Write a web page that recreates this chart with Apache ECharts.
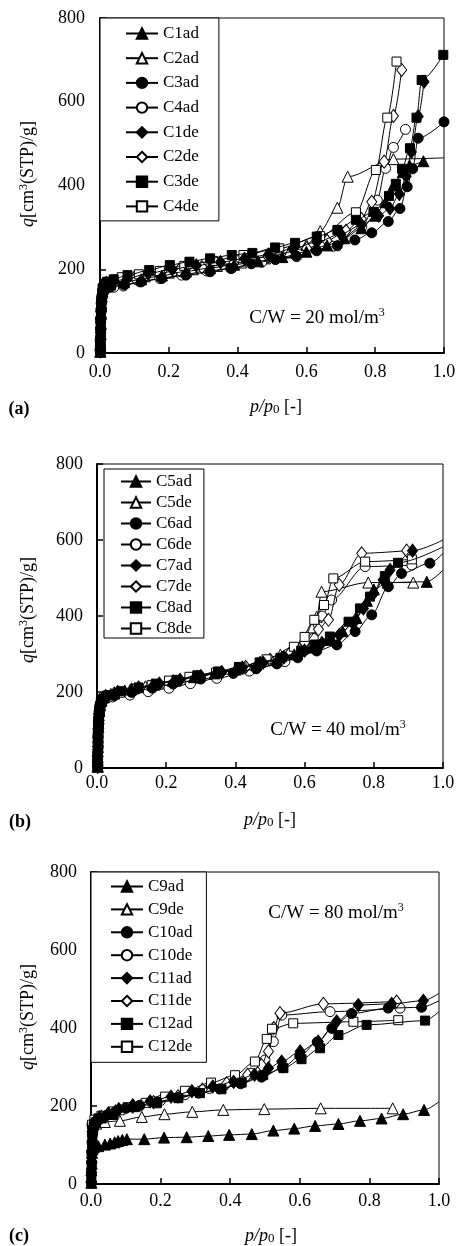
<!DOCTYPE html>
<html><head><meta charset="utf-8">
<script src="https://cdn.jsdelivr.net/npm/echarts@6/dist/echarts.min.js"></script>
<style>html,body{margin:0;padding:0;background:#fff}#c{width:459px;height:1246px}</style>
</head><body><div id="c"></div><script>
// ---------------- DATA ----------------
const xTicks = [0, 0.2, 0.4, 0.6, 0.8, 1.0];
const yTicks = [0, 200, 400, 600, 800];

const namesA = ['C1ad','C2ad','C3ad','C4ad','C1de','C2de','C3de','C4de'];
const namesB = ['C5ad','C5de','C6ad','C6de','C7ad','C7de','C8ad','C8de'];
const namesC = ['C9ad','C9de','C10ad','C10de','C11ad','C11de','C12ad','C12de'];

const cwA = '20', cwB = '40', cwC = '80';

// Panel (a)  [p/p0, q]
const a_C1ad = [[0.001,3],[0.001,20],[0.001,42],[0.002,68],[0.002,92],[0.003,112],[0.004,130],[0.006,144],[0.009,154],[0.014,160],[0.03,164],[0.07,169],[0.12,176],[0.18,185],[0.25,195],[0.32,203],[0.39,211],[0.46,219],[0.53,229],[0.6,242],[0.66,257],[0.71,274],[0.76,298],[0.8,328],[0.83,360],[0.853,400],[0.88,432],[0.9,448],[0.94,458]];
const a_C2ad = [[0.001,4],[0.001,22],[0.002,45],[0.002,70],[0.003,95],[0.004,118],[0.005,135],[0.007,148],[0.01,157],[0.016,163],[0.035,167],[0.07,173],[0.13,183],[0.2,192],[0.27,200],[0.34,208],[0.41,216],[0.48,226],[0.55,240],[0.6,258],[0.64,291],[0.69,347],[0.72,421],[0.853,463]];
const a_C3ad = [[0.001,2],[0.001,15],[0.001,35],[0.002,58],[0.002,82],[0.003,104],[0.004,122],[0.006,136],[0.009,146],[0.014,152],[0.03,157],[0.07,163],[0.12,170],[0.18,178],[0.25,186],[0.32,194],[0.38,202],[0.44,213],[0.51,223],[0.57,232],[0.63,244],[0.69,256],[0.741,270],[0.79,287],[0.838,314],[0.872,345],[0.893,397],[0.909,440],[0.925,513],[1.0,552]];
const a_C4ad = [[0.001,3],[0.001,17],[0.002,38],[0.002,60],[0.003,84],[0.004,106],[0.005,124],[0.007,138],[0.01,148],[0.02,154],[0.04,157],[0.068,160],[0.116,170],[0.174,178],[0.237,186],[0.31,196],[0.383,202],[0.47,217],[0.572,230],[0.678,255],[0.761,302],[0.806,365],[0.83,441],[0.853,491],[0.888,534]];
const a_C1de = [[0.001,5],[0.001,25],[0.002,50],[0.002,75],[0.003,100],[0.004,122],[0.006,140],[0.008,153],[0.012,162],[0.018,167],[0.04,171],[0.08,178],[0.14,190],[0.21,200],[0.28,209],[0.35,217],[0.42,225],[0.49,235],[0.56,249],[0.63,265],[0.7,284],[0.76,306],[0.81,328],[0.843,345],[0.87,380],[0.89,422],[0.905,480],[0.925,565],[0.942,648]];
const a_C2de = [[0.001,4],[0.001,24],[0.002,48],[0.002,72],[0.003,96],[0.004,120],[0.006,138],[0.008,152],[0.012,161],[0.02,166],[0.045,171],[0.1,180],[0.17,190],[0.23,198],[0.296,205],[0.388,214],[0.489,230],[0.601,250],[0.66,268],[0.715,292],[0.76,320],[0.79,361],[0.826,457],[0.853,566],[0.877,676]];
const a_C3de = [[0.001,6],[0.001,28],[0.002,52],[0.002,78],[0.003,102],[0.004,124],[0.006,142],[0.008,155],[0.012,165],[0.02,170],[0.04,176],[0.08,186],[0.143,198],[0.203,210],[0.26,218],[0.32,226],[0.383,234],[0.443,239],[0.509,252],[0.567,263],[0.63,278],[0.69,294],[0.744,318],[0.795,337],[0.84,375],[0.86,404],[0.878,440],[0.901,489],[0.92,562],[0.935,652],[0.998,712]];
const a_C4de = [[0.001,5],[0.001,26],[0.002,50],[0.002,76],[0.003,100],[0.004,122],[0.006,140],[0.008,153],[0.012,163],[0.025,170],[0.063,181],[0.113,188],[0.174,196],[0.245,208],[0.329,220],[0.417,234],[0.521,250],[0.64,279],[0.744,336],[0.802,437],[0.835,562],[0.862,696]];
// line ends without a marker: [series name, p/p0, q]
const tailsA = [['C2ad',1.0,466]];

// Panel (b)
const b_C5ad = [[0.002,3],[0.002,22],[0.002,45],[0.003,70],[0.003,95],[0.004,118],[0.005,138],[0.006,155],[0.008,168],[0.011,178],[0.02,186],[0.05,196],[0.1,207],[0.16,219],[0.22,229],[0.28,239],[0.34,249],[0.4,259],[0.46,271],[0.52,284],[0.57,299],[0.62,317],[0.67,337],[0.71,360],[0.75,395],[0.78,440],[0.8,470],[0.84,488],[0.953,490]];
const b_C5de = [[0.002,5],[0.002,28],[0.003,55],[0.003,82],[0.004,108],[0.005,130],[0.007,150],[0.009,165],[0.013,177],[0.02,187],[0.04,195],[0.08,204],[0.14,215],[0.2,225],[0.27,237],[0.34,248],[0.41,262],[0.471,280],[0.53,298],[0.57,316],[0.601,341],[0.62,370],[0.635,398],[0.649,464],[0.784,488],[0.914,488]];
const b_C6ad = [[0.002,2],[0.002,18],[0.002,40],[0.003,64],[0.003,88],[0.004,110],[0.005,130],[0.006,148],[0.008,162],[0.012,172],[0.02,180],[0.05,190],[0.1,199],[0.16,210],[0.22,221],[0.3,234],[0.394,249],[0.46,261],[0.52,274],[0.58,290],[0.635,308],[0.693,324],[0.746,359],[0.794,403],[0.842,477],[0.88,512],[0.962,539]];
const b_C6de = [[0.002,4],[0.002,26],[0.003,52],[0.003,78],[0.004,104],[0.005,126],[0.007,146],[0.009,162],[0.013,174],[0.02,182],[0.045,187],[0.095,192],[0.148,201],[0.208,210],[0.27,222],[0.346,236],[0.44,255],[0.543,280],[0.6,310],[0.625,341],[0.65,400],[0.678,442],[0.775,530],[0.91,534]];
const b_C7ad = [[0.002,3],[0.002,24],[0.002,48],[0.003,74],[0.003,100],[0.004,122],[0.005,142],[0.007,158],[0.01,170],[0.014,180],[0.025,189],[0.06,200],[0.12,212],[0.18,222],[0.24,232],[0.3,242],[0.36,252],[0.42,264],[0.48,277],[0.54,291],[0.6,309],[0.65,329],[0.7,350],[0.74,380],[0.77,420],[0.8,460],[0.827,495],[0.847,521],[0.912,572]];
const b_C7de = [[0.002,6],[0.002,30],[0.003,58],[0.003,86],[0.004,112],[0.005,134],[0.007,152],[0.01,167],[0.014,178],[0.025,188],[0.05,196],[0.1,206],[0.16,216],[0.22,228],[0.29,240],[0.36,252],[0.43,266],[0.5,285],[0.56,305],[0.6,330],[0.64,365],[0.669,390],[0.7,482],[0.765,565],[0.895,572]];
const b_C8ad = [[0.002,4],[0.002,25],[0.003,50],[0.003,76],[0.004,101],[0.005,124],[0.006,144],[0.008,160],[0.011,172],[0.016,181],[0.03,191],[0.07,202],[0.12,212],[0.17,222],[0.23,232],[0.29,244],[0.35,254],[0.41,266],[0.47,278],[0.53,290],[0.59,309],[0.63,325],[0.673,346],[0.727,385],[0.76,420],[0.789,451],[0.832,505],[0.87,540]];
const b_C8de = [[0.002,5],[0.002,27],[0.003,54],[0.003,80],[0.004,106],[0.005,128],[0.007,148],[0.009,164],[0.013,176],[0.02,185],[0.035,192],[0.066,198],[0.108,208],[0.158,218],[0.208,230],[0.267,240],[0.344,251],[0.418,265],[0.49,286],[0.569,319],[0.6,345],[0.628,390],[0.656,429],[0.683,499],[0.775,543],[0.91,549]];
const tailsB = [['C5ad',1.0,521],['C6ad',1.0,565],['C7ad',1.0,600],['C8ad',1.0,582]];

// Panel (c)
const c_C9ad = [[0.001,3],[0.001,18],[0.001,35],[0.002,52],[0.002,68],[0.003,80],[0.004,89],[0.008,94],[0.021,97],[0.04,101],[0.055,104],[0.068,107],[0.078,110],[0.09,113],[0.103,115],[0.153,115],[0.21,119],[0.275,120],[0.337,123],[0.397,126],[0.462,128],[0.524,137],[0.584,142],[0.644,149],[0.711,154],[0.773,162],[0.835,168],[0.897,179],[0.957,190]];
const c_C9de = [[0.004,148],[0.015,155],[0.04,159],[0.083,162],[0.146,172],[0.211,179],[0.291,185],[0.38,190],[0.498,192],[0.66,194],[0.867,194]];
const c_C10ad = [[0.001,4],[0.001,28],[0.002,55],[0.002,82],[0.003,106],[0.004,126],[0.006,142],[0.009,153],[0.014,160],[0.025,166],[0.045,176],[0.07,185],[0.1,194],[0.14,202],[0.19,211],[0.25,221],[0.31,233],[0.37,244],[0.43,257],[0.49,274],[0.55,298],[0.6,328],[0.65,364],[0.692,399],[0.749,437],[0.854,451],[0.95,453]];
const c_C10de = [[0.003,150],[0.01,160],[0.025,170],[0.05,178],[0.09,190],[0.14,200],[0.2,214],[0.27,229],[0.34,245],[0.41,262],[0.46,284],[0.5,318],[0.524,365],[0.548,433],[0.687,442],[0.888,451]];
const c_C11ad = [[0.001,5],[0.001,30],[0.002,58],[0.002,85],[0.003,110],[0.004,130],[0.006,146],[0.009,157],[0.014,164],[0.025,171],[0.05,181],[0.08,192],[0.12,202],[0.17,212],[0.23,224],[0.29,238],[0.35,250],[0.41,262],[0.47,280],[0.51,297],[0.548,314],[0.601,340],[0.653,365],[0.706,417],[0.768,459],[0.864,462],[0.955,470]];
const c_C11de = [[0.003,155],[0.01,163],[0.03,172],[0.07,186],[0.12,198],[0.18,210],[0.25,225],[0.32,242],[0.39,258],[0.45,280],[0.49,305],[0.51,340],[0.525,400],[0.543,438],[0.668,462],[0.878,468]];
const c_C12ad = [[0.001,3],[0.001,25],[0.002,50],[0.002,77],[0.003,102],[0.004,122],[0.006,138],[0.009,150],[0.014,158],[0.031,168],[0.064,177],[0.126,197],[0.189,207],[0.251,220],[0.313,233],[0.375,243],[0.433,260],[0.495,279],[0.553,297],[0.605,320],[0.658,348],[0.711,382],[0.792,408],[0.96,419]];
const c_C12de = [[0.003,152],[0.01,165],[0.03,175],[0.064,186],[0.105,197],[0.157,208],[0.213,224],[0.27,239],[0.345,260],[0.414,279],[0.471,314],[0.505,372],[0.52,398],[0.581,412],[0.754,416],[0.883,420]];
const tailsC = [['C9ad',1.0,211],['C10ad',1.0,470],['C11ad',1.0,489],['C12ad',1.0,442]];

// ---------------- CHART ----------------
const FONT = 'Liberation Serif';
const markerStyles = [
  {symbol:'triangle', size:11, fill:'#000'},
  {symbol:'triangle', size:11, fill:'#fff'},
  {symbol:'circle', size:10, fill:'#000'},
  {symbol:'circle', size:10, fill:'#fff'},
  {symbol:'diamond', size:[10,13], fill:'#000'},
  {symbol:'diamond', size:[10,13], fill:'#fff'},
  {symbol:'rect', size:9, fill:'#000'},
  {symbol:'rect', size:9, fill:'#fff'}
];

const panels = [
  {names:namesA, data:[a_C1ad,a_C2ad,a_C3ad,a_C4ad,a_C1de,a_C2de,a_C3de,a_C4de], tails:tailsA,
   grid:{left:100, top:18, width:344, height:335}, xMargin:10, yMargin:15,
   legend:{left:100, top:18, padding:[7,20,6,25], itemGap:7.7, itemWidth:32},
   cw:cwA, cwPos:[317,318], yTitle:[28,174], xTitle:[276,407], tag:'(a)', tagPos:[19,409]},
  {names:namesB, data:[b_C5ad,b_C5de,b_C6ad,b_C6de,b_C7ad,b_C7de,b_C8ad,b_C8de], tails:tailsB,
   grid:{left:97, top:464, width:346, height:304}, xMargin:6, yMargin:14,
   legend:{left:104, top:469, padding:[4,12,1,16], itemGap:4, itemWidth:30},
   cw:cwB, cwPos:[338,730], yTitle:[28,610], xTitle:[270,820], tag:'(b)', tagPos:[20,822]},
  {names:namesC, data:[c_C9ad,c_C9de,c_C10ad,c_C10de,c_C11ad,c_C11de,c_C12ad,c_C12de], tails:tailsC,
   grid:{left:91, top:872, width:348, height:312}, xMargin:8, yMargin:14,
   legend:{left:91, top:872, padding:[6,14,7,19], itemGap:5.9, itemWidth:32},
   cw:cwC, cwPos:[336,913], yTitle:[28,1017], xTitle:[271,1236], tag:'(c)', tagPos:[19,1236]}
];

const grids=[], xAxes=[], yAxes=[], series=[], legends=[], graphics=[];
const axisLbl = {color:'#000', fontFamily:FONT, fontSize:18};

panels.forEach((p, i) => {
  grids.push(Object.assign({show:true, borderColor:'#000', borderWidth:1, containLabel:false}, p.grid));
  xAxes.push({type:'value', gridIndex:i, min:xTicks[0], max:xTicks[xTicks.length-1], interval:0.2,
    axisLine:{show:true, onZero:false, lineStyle:{color:'#000', width:2}},
    axisTick:{show:true, inside:true, length:6, lineStyle:{color:'#000', width:1.5}},
    axisLabel:Object.assign({margin:p.xMargin, formatter:v=>v.toFixed(1)}, axisLbl),
    splitLine:{show:false}});
  yAxes.push({type:'value', gridIndex:i, min:yTicks[0], max:yTicks[yTicks.length-1], interval:200,
    axisLine:{show:true, onZero:false, lineStyle:{color:'#000', width:2}},
    axisTick:{show:true, inside:true, length:6, lineStyle:{color:'#000', width:1.5}},
    axisLabel:Object.assign({margin:p.yMargin}, axisLbl),
    splitLine:{show:false}});
  p.names.forEach((nm, k) => {
    const ms = markerStyles[k];
    const pts = p.data[k].map(d => d.slice());
    p.tails.filter(t => t[0] === nm).forEach(t => pts.push({value:[t[1], t[2]], symbol:'none'}));
    series.push({
      name:nm, type:'line', xAxisIndex:i, yAxisIndex:i, data:pts,
      smooth:0.3, smoothMonotone:'x',
      symbol:ms.symbol, symbolSize:ms.size, showAllSymbol:true,
      lineStyle:{color:'#000', width:1},
      itemStyle:{color:ms.fill, borderColor:'#000', borderWidth:1},
      emphasis:{disabled:true}, animation:false,
      z: (ms.fill === '#000' ? 20 : 2) + k
    });
  });
  legends.push(Object.assign({
    orient:'vertical', data:p.names, selectedMode:false,
    borderColor:'#000', borderWidth:1, backgroundColor:'#fff',
    itemHeight:13,
    textStyle:{color:'#000', fontFamily:FONT, fontSize:17}
  }, p.legend));

  graphics.push({type:'text', x:p.cwPos[0], y:p.cwPos[1], z:100, style:{
    text:'{n|C/W = ' + p.cw + ' mol/m}{s|3}',
    rich:{n:{fontFamily:FONT, fontSize:19, fill:'#000'}, s:{fontFamily:FONT, fontSize:12, fill:'#000', padding:[0,0,10,0]}},
    align:'center', verticalAlign:'middle', textAlign:'center', textVerticalAlign:'middle'}});
  graphics.push({type:'text', x:p.yTitle[0], y:p.yTitle[1], rotation:Math.PI/2, z:100, style:{
    text:'{i|q}{n|[cm}{s|3}{n|(STP)/g]}',
    rich:{i:{fontFamily:FONT, fontSize:18, fontStyle:'italic', fill:'#000'},
          n:{fontFamily:FONT, fontSize:18, fill:'#000'},
          s:{fontFamily:FONT, fontSize:12, fill:'#000', padding:[0,0,9,0]}},
    align:'center', verticalAlign:'middle', textAlign:'center', textVerticalAlign:'middle'}});
  graphics.push({type:'text', x:p.xTitle[0], y:p.xTitle[1], z:100, style:{
    text:'{i|p/p}{b|0}{n| [-]}',
    rich:{i:{fontFamily:FONT, fontSize:18, fontStyle:'italic', fill:'#000'},
          n:{fontFamily:FONT, fontSize:18, fill:'#000'},
          b:{fontFamily:FONT, fontSize:13, fill:'#000', padding:[6,0,0,0]}},
    align:'center', verticalAlign:'middle', textAlign:'center', textVerticalAlign:'middle'}});
  graphics.push({type:'text', x:p.tagPos[0], y:p.tagPos[1], z:100, style:{
    text:p.tag, fontFamily:FONT, fontSize:18, fontWeight:'bold', fill:'#000',
    align:'center', verticalAlign:'middle', textAlign:'center', textVerticalAlign:'middle'}});
});

const chart = echarts.init(document.getElementById('c'), null, {renderer:'canvas'});
chart.setOption({
  animation:false, backgroundColor:'#fff',
  grid:grids, xAxis:xAxes, yAxis:yAxes, series:series, legend:legends, graphic:graphics
});
</script></body></html>
